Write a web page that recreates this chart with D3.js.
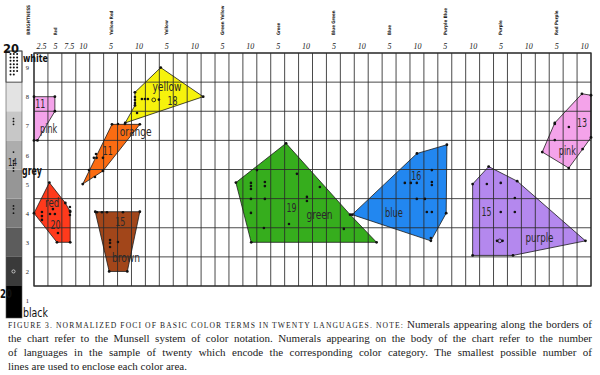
<!DOCTYPE html>
<html><head><meta charset="utf-8">
<script src="https://cdn.jsdelivr.net/npm/d3@7"></script>
<style>
body{margin:0;background:#fff;}
svg{display:block;}
</style></head>
<body>
<svg id="c" width="600" height="375"></svg>
<script>
// ---------- DATA ----------
// Munsell hue families (column index h: 1 = 2.5R ... 40 = 10RP)
const hueFamilies = ["Red","Yellow Red","Yellow","Green Yellow","Green","Blue Green","Blue","Purple Blue","Purple","Red Purple"];
const hueStepLabels = ["2.5","5","7.5","10"];
const valueTicks = [1,2,3,4,5,6,7,8,9];
const greyShades = ["#000000","#3a3a3a","#5c5c5c","#7b7b7b","#969696","#adadad","#c7c7c7","#e3e3e3","#ffffff"]; // value 1..9

// colour categories (order of drawing)
const terms   = ["pink","red","orange","yellow","brown","green","blue","purple","pink"];
const counts  = [11, 20, 11, 18, 15, 19, 16, 15, 13];
const fills   = ["#f4a3ea","#ff3a1c","#fb6c12","#f6f20c","#a2461a","#36ad1d","#2287f0","#b488ee","#f4a3ea"];
// polygon vertices [hue index, Munsell value]
const pinkLeft  = [[0.5,8],[2,8],[2,7.5],[0.75,6.5],[0.5,6.5]];
const redArea   = [[0.5,4],[1.6,5.05],[2.75,4.35],[3.1,4.05],[3.1,3],[2.15,3]];
const orangeArea= [[4,5],[6.1,7.05],[8.1,7.05],[5.45,5.45]];
const yellowArea= [[7.75,8.15],[9.6,9.0],[12.65,8.0],[7.05,7.1],[7.75,7.7]];
const brownArea = [[4.9,4.05],[8.1,4.05],[7.2,2],[5.9,2]];
const greenArea = [[18.6,6.4],[23.2,3.95],[25.1,3],[16.1,3],[15,5.05]];
const blueArea  = [[30.15,6.35],[30.1,4],[29,3.05],[23.35,3.95],[28,6.05]];
const purpleArea= [[33.15,5.6],[35.2,5.1],[40.1,3.05],[34.9,2.55],[32,2.55],[32,5]];
const pinkRight = [[39.85,8.1],[40.5,8.05],[40.5,6.6],[39.9,6.2],[38.9,5.55],[37,6.1],[37.9,7.1]];
const areas = [pinkLeft, redArea, orangeArea, yellowArea, brownArea, greenArea, blueArea, purpleArea, pinkRight];

// individual language foci (interior dots) [hue index, value]
const fociPoints = [
  [1.07,4.04],[1.07,3.9],[1.07,3.77],[1.65,3.97],[2.0,3.97],[1.86,4.14],[3.08,4.21],[3.08,4.08],[3.08,3.94],[2.22,3.32],
  [8.25,7.92],[8.47,7.92],[8.68,7.92],[9.47,7.9],[7.75,7.99],[7.75,7.89],[7.75,7.78],[7.9,7.44],
  [4.95,6.03],[4.8,5.9],[5.0,5.9],[5.45,5.9],[4.45,5.48],[4.88,5.24],[6.53,7.06],[7.03,7.06],
  [5.02,4.03],[5.38,4.03],[5.74,4.03],[6.89,4.03],[5.96,3.08],[5.96,2.98],[5.96,2.84],[6.53,3.01],
  [16.51,5.48],[19.38,5.35],[16.08,5.04],[16.08,4.93],[16.08,4.83],[17.08,5.07],[17.08,4.93],[16.08,4.49],[17.08,4.49],
  [21.03,4.9],[20.1,4.56],[20.1,4.42],[16.08,4.01],[18.81,3.63],[17.01,3.49],[22.75,3.46],
  [27.13,5.04],[27.56,5.04],[27.99,5.04],[29.07,5.48],[29.07,5.07],[29.07,4.97],[27.99,4.49],[28.57,4.49],[28.71,4.04],[29.07,4.04],[29.0,3.15],
  [33.02,5.0],[34.02,5.04],[35.03,4.52],[34.02,4.04],[35.03,4.04],[33.75,3.05],[34.15,3.05],
  [38.91,6.96],[37.9,7.06],[37.9,6.51]
];
const openFoci = [[9.1,7.89],[33.95,3.05]];

// label anchors [hue index, value] for name and count
const nameAt  = [[1.55,6.9],[1.8,4.35],[7.8,6.8],[10.05,8.33],[7.1,2.45],[21.0,3.95],[26.35,4.0],[36.8,3.15],[38.8,6.15]];
const countAt = [[0.95,7.78],[2.05,3.6],[5.8,6.15],[10.45,7.86],[6.7,3.7],[19.0,4.2],[27.95,5.3],[33.0,4.05],[39.85,7.1]];
const nameWidth = [17,14,32,29,28,26,18,28,17];

const captionHead = "FIGURE 3. NORMALIZED FOCI OF BASIC COLOR TERMS IN TWENTY LANGUAGES. NOTE:";
const captionHeadRest = "Numerals appearing along the borders of";
const captionLines = [
  "the chart refer to the Munsell system of color notation. Numerals appearing on the body of the chart refer to the number",
  "of languages in the sample of twenty which encode the corresponding color category. The smallest possible number of",
  "lines are used to enclose each color area."
];

// ---------- DRAW ----------
const svg = d3.select("#c");
const x = d3.scaleLinear().domain([0.5, 40.5]).range([34, 591]);
const y = d3.scaleLinear().domain([9.5, 1.5]).range([53, 286]);
const condensed = "'Liberation Sans Narrow','DejaVu Sans Condensed','Arial Narrow',sans-serif";

// grey brightness bar
const bar = svg.append("g");
bar.selectAll("rect").data(valueTicks).join("rect")
  .attr("x", 6).attr("width", 16)
  .attr("y", v => v === 1 ? y(1.5) - 4 : (v === 9 ? y(9.5) - 2 : y(v + 0.5)))
  .attr("height", v => v === 1 ? 36 : (v === 9 ? y(8.5) - y(9.5) + 2 : y(v - 0.5) - y(v + 0.5)))
  .attr("fill", v => greyShades[v - 1])
  .attr("stroke", v => v === 9 ? "#222" : "none").attr("stroke-width", 0.8);
bar.append("rect").attr("x",6).attr("y",y(9.5)-2).attr("width",16).attr("height",318-y(9.5)+2)
  .attr("fill","none").attr("stroke","#555").attr("stroke-width",0.6);
const whiteDots = d3.range(20);
bar.selectAll("circle.w").data(whiteDots).join("circle").attr("class","w")
  .attr("cx", i => 10.5 + (i % 3) * 3.3).attr("cy", i => 54 + Math.floor(i / 3) * 3.4)
  .attr("r", 1).attr("fill", "#111");
const greyDots = [7.25,7.15,7.05,6.1,5.8,5.65,5.55,5.45,4.25,4.15,4.0];
bar.selectAll("circle.g").data(greyDots).join("circle").attr("class","g")
  .attr("cx", 13.5).attr("cy", v => y(v)).attr("r", 0.9).attr("fill", "#111");
bar.append("circle").attr("cx",13.5).attr("cy",y(2)).attr("r",1.6).attr("fill","none").attr("stroke","#eee").attr("stroke-width",0.7);

// polygon fills
const line = d3.line().x(d => x(d[0])).y(d => y(d[1])).curve(d3.curveLinearClosed);
svg.append("g").selectAll("path").data(areas).join("path")
  .attr("d", line).attr("fill", (d, i) => fills[i]);

// grid
const grid = svg.append("g").attr("stroke", "#2a2a2a").attr("stroke-opacity", 0.85);
grid.selectAll("line.v").data(d3.range(0.5, 41, 1)).join("line").attr("class","v")
  .attr("x1", d => x(d)).attr("x2", d => x(d)).attr("y1", y(9.5)).attr("y2", y(1.5))
  .attr("stroke-width", 1);
grid.selectAll("line.h").data(d3.range(1.5, 10, 1)).join("line").attr("class","h")
  .attr("x1", x(0.5)).attr("x2", x(40.5)).attr("y1", d => y(d)).attr("y2", d => y(d))
  .attr("stroke-width", 1);
grid.append("rect").attr("x", x(0.5)).attr("y", y(9.5)).attr("width", x(40.5) - x(0.5)).attr("height", y(1.5) - y(9.5))
  .attr("fill", "none").attr("stroke-width", 1.4);

// polygon outlines + vertex dots
svg.append("g").selectAll("path").data(areas).join("path")
  .attr("d", line).attr("fill", "none").attr("stroke", "#1a1a1a").attr("stroke-width", 0.8);
svg.append("g").selectAll("circle").data(areas.flat()).join("circle")
  .attr("cx", d => x(d[0])).attr("cy", d => y(d[1])).attr("r", 1.4).attr("fill", "#111");
svg.append("g").selectAll("circle").data(fociPoints).join("circle")
  .attr("cx", d => x(d[0])).attr("cy", d => y(d[1])).attr("r", 1.3).attr("fill", "#111");
svg.append("g").selectAll("circle").data(openFoci).join("circle")
  .attr("cx", d => x(d[0])).attr("cy", d => y(d[1])).attr("r", 1.9).attr("fill", "none").attr("stroke","#111").attr("stroke-width",0.8);

// labels
const lab = svg.append("g").attr("font-family", condensed).attr("fill", "#2a2a2a").attr("text-anchor", "middle");
lab.selectAll("text.n").data(terms).join("text").attr("class","n")
  .attr("x", (d, i) => x(nameAt[i][0])).attr("y", (d, i) => y(nameAt[i][1]) + 4)
  .attr("font-size", 12).attr("textLength", (d, i) => nameWidth[i]).attr("lengthAdjust","spacingAndGlyphs")
  .text(d => d);
lab.selectAll("text.c").data(counts).join("text").attr("class","c")
  .attr("x", (d, i) => x(countAt[i][0])).attr("y", (d, i) => y(countAt[i][1]) + 4.5)
  .attr("font-size", 12).attr("textLength", 10).attr("lengthAdjust","spacingAndGlyphs")
  .text(d => d);

// hue step numbers (axis)
const hueTickVals = d3.range(1, 41).filter(h => h <= 4 || (h - 1) % 4 === 1 || (h - 1) % 4 === 3);
const topAxis = d3.axisTop(x).tickValues(hueTickVals).tickSize(0).tickPadding(4)
  .tickFormat(h => hueStepLabels[(h - 1) % 4]);
const ta = svg.append("g").attr("transform", `translate(0,${y(9.5)})`).call(topAxis);
ta.select(".domain").remove();
ta.selectAll("text").attr("font-family", "'Liberation Serif',serif").attr("font-style","italic")
  .attr("font-size", 8).attr("fill", "#222");

// hue family names (rotated)
const famH = hueFamilies.map((f, i) => 4 * i + 2);
svg.append("g").selectAll("text").data(hueFamilies).join("text")
  .attr("transform", (d, i) => `translate(${x(famH[i]) + 2},35) rotate(-90)`)
  .attr("font-family", "'DejaVu Sans Condensed',sans-serif").attr("font-weight", "bold")
  .attr("font-size", 4.6).attr("fill", "#222")
  .attr("textLength", d => d.length * 2.45).attr("lengthAdjust","spacingAndGlyphs")
  .text(d => d);
svg.append("text").attr("transform", "translate(30,35) rotate(-90)")
  .attr("font-family", "'DejaVu Sans Condensed',sans-serif").attr("font-weight", "bold")
  .attr("font-size", 4.6).attr("fill", "#222").attr("textLength", 30).attr("lengthAdjust","spacingAndGlyphs")
  .text("BRIGHTNESS");

// value numbers (axis)
const leftAxis = d3.axisLeft(y).tickValues(valueTicks).tickSize(0).tickPadding(5).tickFormat(d3.format("d"));
const la = svg.append("g").attr("transform", `translate(${x(0.5)},0)`).call(leftAxis);
la.select(".domain").remove();
la.selectAll("text").attr("font-family", "'Liberation Serif',serif").attr("font-size", 6.5).attr("fill", "#222");

// brightness bar words
const bw = svg.append("g").attr("font-family", condensed).attr("font-weight","bold").attr("fill","#111");
bw.append("text").attr("x", 3).attr("y", 53).attr("font-size", 12.5).attr("textLength",16).attr("lengthAdjust","spacingAndGlyphs").text("20");
bw.append("text").attr("x", 23).attr("y", 62).attr("font-size", 11).attr("textLength",25).attr("lengthAdjust","spacingAndGlyphs").text("white");
bw.append("text").attr("x", 22).attr("y", 175).attr("font-size", 12).attr("textLength",20).attr("lengthAdjust","spacingAndGlyphs").text("grey");
bw.append("text").attr("x", 8).attr("y", 166).attr("font-size", 10).attr("font-weight","normal").attr("fill","#222").attr("textLength",9).attr("lengthAdjust","spacingAndGlyphs").text("14");
bw.append("text").attr("x", 0).attr("y", 298).attr("font-size", 13).attr("textLength",12).attr("lengthAdjust","spacingAndGlyphs").text("20");
bw.append("text").attr("x", 23).attr("y", 317).attr("font-size", 12).attr("font-weight","normal").attr("textLength",25).attr("lengthAdjust","spacingAndGlyphs").text("black");

// caption (justified through word spacing)
const cap = svg.append("g").attr("font-family", "'Liberation Serif',serif").attr("fill", "#222");
function justify(sel, x0, x1) {
  const txt = sel.text();
  const gaps = txt.split(" ").length - 1;
  const w = sel.node().getComputedTextLength();
  if (gaps > 0) sel.attr("word-spacing", Math.max(0, (x1 - x0 - w) / gaps));
}
const rest = cap.append("text").attr("y", 328).attr("font-size", 11).text(captionHeadRest);
const restW = rest.node().getComputedTextLength();
const restX = 592 - restW - 5;
rest.attr("x", restX);
justify(rest, restX, 592);
const head = cap.append("text").attr("x", 8).attr("y", 328).attr("font-size", 7.6).attr("letter-spacing", 0.3)
  .text(captionHead);
head.attr("textLength", restX - 4 - 8).attr("lengthAdjust", "spacing");
cap.selectAll("text.l").data(captionLines).join("text").attr("class","l")
  .attr("x", 8).attr("y", (d, i) => 342 + i * 14).attr("font-size", 11)
  .text(d => d)
  .each(function(d, i) { if (i < 2) justify(d3.select(this), 8, 592); });
</script>
</body></html>
